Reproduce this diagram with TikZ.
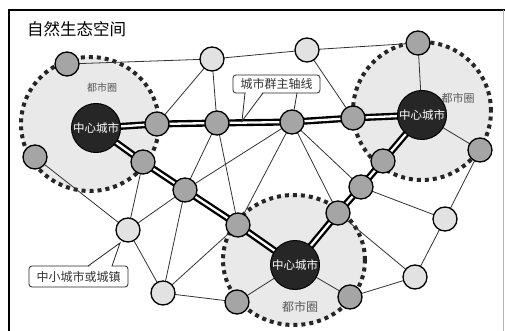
\documentclass[tikz,border=0pt]{standalone}
\usepackage{fontspec}
\newfontfamily\cjk{Noto Sans CJK SC}
\usetikzlibrary{backgrounds}
\definecolor{nodegrey}{RGB}{165,165,165}
\definecolor{nodelight}{RGB}{226,226,226}
\definecolor{nodedark}{RGB}{38,38,38}
\definecolor{areafill}{RGB}{233,233,233}
\tikzset{
  greynode/.style={circle,draw=black,line width=1.3pt,fill=nodegrey,minimum size=24pt,inner sep=0pt},
  lightnode/.style={circle,draw=black,line width=1.3pt,fill=nodelight,minimum size=24pt,inner sep=0pt},
  centrenode/.style={circle,draw=black,line width=1pt,fill=nodedark,minimum size=49pt,inner sep=0pt,
     text=white,font=\cjk\fontsize{11.5}{12}\selectfont},
  metroarea/.style={draw=black!85,line width=4pt,dash pattern=on 4pt off 4pt,fill=areafill},
  thinedge/.style={draw=black!80,line width=0.8pt},
  axisouter/.style={draw=black,line width=7pt},
  axisinner/.style={draw=white,line width=2.3pt},
  arealabel/.style={text=black!65,font=\cjk\fontsize{11}{12}\selectfont,inner sep=0pt},
  callout/.style={draw=black!85,line width=0.8pt,fill=white,rounded corners=3pt,inner sep=0pt,
     font=\cjk\fontsize{12}{12}\selectfont,text=black!80},
  pointer/.style={draw=black!85,line width=0.8pt}
}
\begin{document}
\begin{tikzpicture}[x=1pt,y=-1pt]
\useasboundingbox (0,0) rectangle (505,331);
% frame
\draw[line width=2pt] (9,331) -- (9,10) -- (505,10);
\draw[black!30,line width=0.8pt] (503.5,10) -- (503.5,331);
\node[anchor=west,inner sep=0pt,font=\cjk\fontsize{16.5}{17}\selectfont] (title) at (27,29) {自然生态空间};

% nodes
\node[centrenode] (LC) at (96,128) {中心城市};
\node[centrenode] (RC) at (422,115) {中心城市};
\node[centrenode] (BC) at (295,265) {中心城市};
\node[greynode] (A1) at (67,64) {};
\node[greynode] (A2) at (35,157) {};
\node[greynode] (A3) at (157,124) {};
\node[greynode] (A4) at (143,162) {};
\node[greynode] (B1) at (217,123) {};
\node[greynode] (B2) at (292,122) {};
\node[greynode] (B3) at (353,118) {};
\node[greynode] (C1) at (418,43) {};
\node[greynode] (C2) at (480,150) {};
\node[greynode] (C3) at (383,161) {};
\node[greynode] (C4) at (361,187) {};
\node[greynode] (C5) at (338,213) {};
\node[greynode] (D1) at (238,225) {};
\node[greynode] (D2) at (237,302) {};
\node[greynode] (D3) at (350,297) {};
\node[greynode] (E) at (185,190) {};
\node[lightnode] (L1) at (212,59) {};
\node[lightnode] (L2) at (307,50) {};
\node[lightnode] (L3) at (128,230) {};
\node[lightnode] (L4) at (163,293) {};
\node[lightnode] (L5) at (445,219) {};
\node[lightnode] (L6) at (415,277) {};

\begin{pgfonlayer}{background}
  % metropolitan areas
  \path[metroarea] (90,124) ellipse [x radius=69pt, y radius=67pt];
  \path[metroarea] (422,111) ellipse [x radius=69pt, y radius=69pt];
  \path[metroarea] (294,260) ellipse [x radius=71pt, y radius=65pt];
  % thin links
  \foreach \a/\b in {A1/L1, L1/L2, L2/C1, L1/A3, L1/B1, L2/B3, C1/RC, RC/C2, C2/L5, L5/L6, L5/C4,
                     L6/D3, L6/C5, BC/D3, BC/D2, D2/L4, L4/L3, L4/E, L4/D1, L3/A4, L3/A2, L3/E,
                     E/B1, E/B2, B1/D1, B2/D1, B2/C5, B2/C4}
    \draw[thinedge] (\a.center) -- (\b.center);
  % main axis (triple line)
  \foreach \a/\b in {LC/A3, A3/B1, B1/B2, B2/B3, B3/RC, LC/A4, A4/E, E/D1, D1/BC, BC/C5, C5/C4, C4/C3, C3/RC}
    \draw[axisouter] (\a.center) -- (\b.center);
  \foreach \a/\b in {LC/A3, A3/B1, B1/B2, B2/B3, B3/RC, LC/A4, A4/E, E/D1, D1/BC, BC/C5, C5/C4, C4/C3, C3/RC}
    \draw[axisinner] (\a.center) -- (\b.center);
\end{pgfonlayer}

% area labels
\node[arealabel,font=\cjk\fontsize{10}{11}\selectfont] (lab1) at (102,88) {都市圈};
\node[arealabel] (lab2) at (458,98) {都市圈};
\node[arealabel,font=\cjk\fontsize{12}{12}\selectfont] (lab3) at (300,307) {都市圈};

% callout: main axis
\node[callout,minimum width=87pt,minimum height=18pt] (ax) at (276.5,84) {城市群主轴线};
\coordinate (axp) at (242,121);
\coordinate (axl) at (245,93);
\coordinate (axr) at (263,93);
\coordinate (axb) at (297,93);
\fill[white] (245.8,92) -- (axp) -- (262.2,92) -- cycle;
\draw[pointer] (axl) -- (axp) -- (axr);
\draw[pointer] (axb) -- (B2);

% callout: small towns
\node[callout,minimum width=99pt,minimum height=21pt] (sm) at (78.5,276.5) {中小城市或城镇};
\coordinate (smp) at (120,243);
\coordinate (sml) at (88,266);
\coordinate (smr) at (112,266);
\fill[white] (88.8,267) -- (smp) -- (111.2,267) -- cycle;
\draw[pointer] (sml) -- (smp) -- (smr);
\end{tikzpicture}
\end{document}
